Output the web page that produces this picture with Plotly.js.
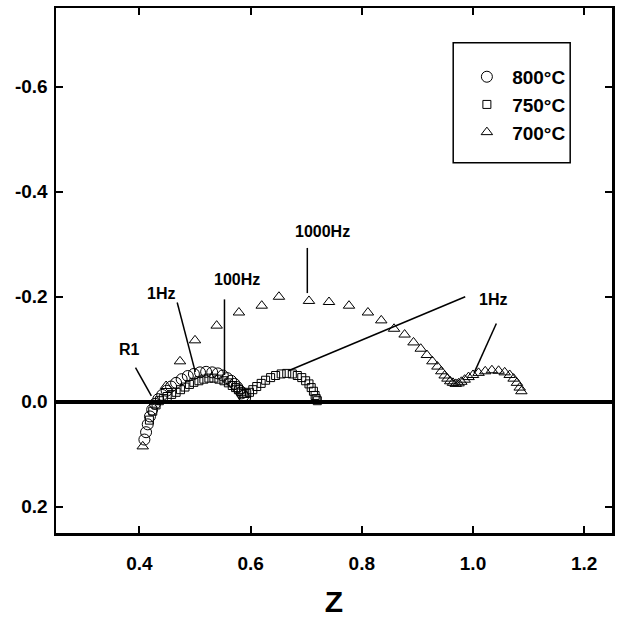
<!DOCTYPE html>
<html>
<head>
<meta charset="utf-8">
<script src="https://cdn.plot.ly/plotly-3.0.1.min.js"></script>
<style>html,body{margin:0;padding:0;background:#fff;}#chart{width:617px;height:623px;}</style>
</head>
<body>
<div id="chart"></div>
<script>
// ---- data (Z' on x, Z'' on y; negative values plotted upward) ----
const x800 = [0.409,0.412,0.415,0.419,0.423,0.428,0.434,0.441,0.449,0.457,0.466,0.476,0.487,0.498,0.509,0.520,0.531,0.541,0.550,0.558,0.565,0.571,0.576,0.580,0.584,0.587,0.590];
const y800 = [0.072,0.058,0.043,0.028,0.015,0.004,-0.005,-0.013,-0.021,-0.029,-0.036,-0.043,-0.049,-0.053,-0.056,-0.057,-0.056,-0.054,-0.050,-0.045,-0.040,-0.034,-0.028,-0.022,-0.016,-0.011,-0.007];

const x750 = [0.418,0.424,0.430,0.436,0.443,0.450,0.458,0.466,0.474,0.482,0.490,0.498,0.507,0.516,0.525,0.534,0.543,0.552,0.560,0.567,0.573,0.578,0.583,0.588,0.593,0.598,0.604,0.611,0.619,0.627,0.636,0.645,0.655,0.665,0.675,0.684,0.692,0.699,0.705,0.709,0.713,0.716,0.718,0.720];
const y750 = [0.035,0.018,0.006,-0.002,-0.006,-0.010,-0.014,-0.018,-0.023,-0.028,-0.033,-0.037,-0.040,-0.043,-0.045,-0.045,-0.043,-0.040,-0.036,-0.031,-0.027,-0.023,-0.019,-0.016,-0.016,-0.018,-0.023,-0.029,-0.035,-0.041,-0.046,-0.050,-0.053,-0.054,-0.053,-0.050,-0.046,-0.040,-0.034,-0.027,-0.020,-0.012,-0.006,-0.002];

const x700 = [0.406,0.448,0.473,0.500,0.539,0.579,0.620,0.651,0.705,0.741,0.777,0.811,0.835,0.858,0.877,0.893,0.906,0.917,0.927,0.936,0.943,0.949,0.954,0.959,0.964,0.969,0.974,0.979,0.985,0.992,1.000,1.010,1.022,1.034,1.046,1.057,1.066,1.073,1.079,1.084,1.087];
const y700 = [0.085,-0.030,-0.077,-0.117,-0.145,-0.170,-0.183,-0.200,-0.192,-0.190,-0.183,-0.170,-0.155,-0.139,-0.128,-0.113,-0.101,-0.089,-0.077,-0.067,-0.058,-0.050,-0.044,-0.039,-0.036,-0.034,-0.035,-0.038,-0.042,-0.047,-0.051,-0.055,-0.058,-0.060,-0.059,-0.056,-0.051,-0.044,-0.036,-0.027,-0.020];

const seriesNames = ["800\u00B0C","750\u00B0C","700\u00B0C"];

const xTickVals = [0.4,0.6,0.8,1.0,1.2];
const xTickText = ["0.4","0.6","0.8","1.0","1.2"];
const yTickVals = [-0.6,-0.4,-0.2,0.0,0.2];
const yTickText = ["-0.6","-0.4","-0.2","0.0","0.2"];

// annotation labels and leader lines (data coordinates)
const labelText = ["R1","1Hz","100Hz","1000Hz","1Hz"];
const labelX = [0.383,0.438,0.575,0.729,1.036];
const labelY = [-0.100,-0.207,-0.232,-0.324,-0.195];
const leadX0 = [0.393,0.468,0.553,0.702,0.986,1.042];
const leadY0 = [-0.065,-0.189,-0.195,-0.293,-0.200,-0.149];
const leadX1 = [0.4215,0.5005,0.553,0.702,0.668,1.002];
const leadY1 = [-0.011,-0.057,-0.051,-0.207,-0.059,-0.055];

const FONT = "Liberation Sans, Arial, Helvetica, sans-serif";

const traces = [
  {x:x800, y:y800, name:"\u00A0" + seriesNames[0], mode:"markers", type:"scatter", legendgroup:"a",
   marker:{symbol:"circle-open", size:11, color:"#000", line:{width:1, color:"#000"}}},
  {x:x750, y:y750, name:"\u00A0" + seriesNames[1], mode:"markers", type:"scatter", legendgroup:"b",
   marker:{symbol:"square-open", size:8, color:"#000", line:{width:1, color:"#000"}}},
  {x:x700, y:y700, name:"\u00A0" + seriesNames[2], mode:"markers", type:"scatter", legendgroup:"c",
   marker:{symbol:"triangle-up-open", size:10, color:"#000", line:{width:1, color:"#000"}}}
];

const shapes = leadX0.map((v,i)=>({type:"line", xref:"x", yref:"y", x0:v, y0:leadY0[i], x1:leadX1[i], y1:leadY1[i], line:{color:"#000", width:1.5}}));
shapes.push({type:"rect", xref:"paper", yref:"paper", x0:0.7144, x1:0.9248, y0:0.7052, y1:0.9338, line:{color:"#000", width:1.5}});

const annotations = labelText.map((t,i)=>({text:t, x:labelX[i], y:labelY[i], xref:"x", yref:"y", showarrow:false,
  font:{family:FONT, size:16, color:"#000", weight:"bold"}}));

const layout = {
  width:617, height:623,
  margin:{l:56, r:5, t:8, b:90},
  paper_bgcolor:"#fff", plot_bgcolor:"#fff",
  showlegend:true,
  legend:{x:0.739, y:0.905, xanchor:"left", yanchor:"top", bgcolor:"rgba(0,0,0,0)", borderwidth:0,
    traceorder:"grouped", tracegroupgap:0, itemwidth:30,
    font:{family:FONT, size:19, color:"#000", weight:"bold"}},
  xaxis:{range:[0.25,1.25], tickvals:xTickVals, ticktext:xTickText, ticks:"inside", ticklen:7, tickwidth:2, tickcolor:"#000",
    showline:true, linewidth:2.5, linecolor:"#000", mirror:"ticks", showgrid:false, zeroline:false,
    ticklabelstandoff:12,
    tickfont:{family:FONT, size:19, color:"#000", weight:"bold"},
    title:{text:"Z", standoff:18, font:{family:FONT, size:30, color:"#000", weight:"bold"}}},
  yaxis:{range:[0.25,-0.75], tickvals:yTickVals, ticktext:yTickText, ticks:"inside", ticklen:7, tickwidth:2, tickcolor:"#000",
    showline:true, linewidth:2.5, linecolor:"#000", mirror:"ticks", showgrid:false,
    zeroline:true, zerolinewidth:3.5, zerolinecolor:"#000",
    ticklabelstandoff:2,
    tickfont:{family:FONT, size:19, color:"#000", weight:"bold"}},
  shapes:shapes,
  annotations:annotations
};

Plotly.newPlot("chart", traces, layout, {displayModeBar:false, staticPlot:true});
</script>
</body>
</html>
